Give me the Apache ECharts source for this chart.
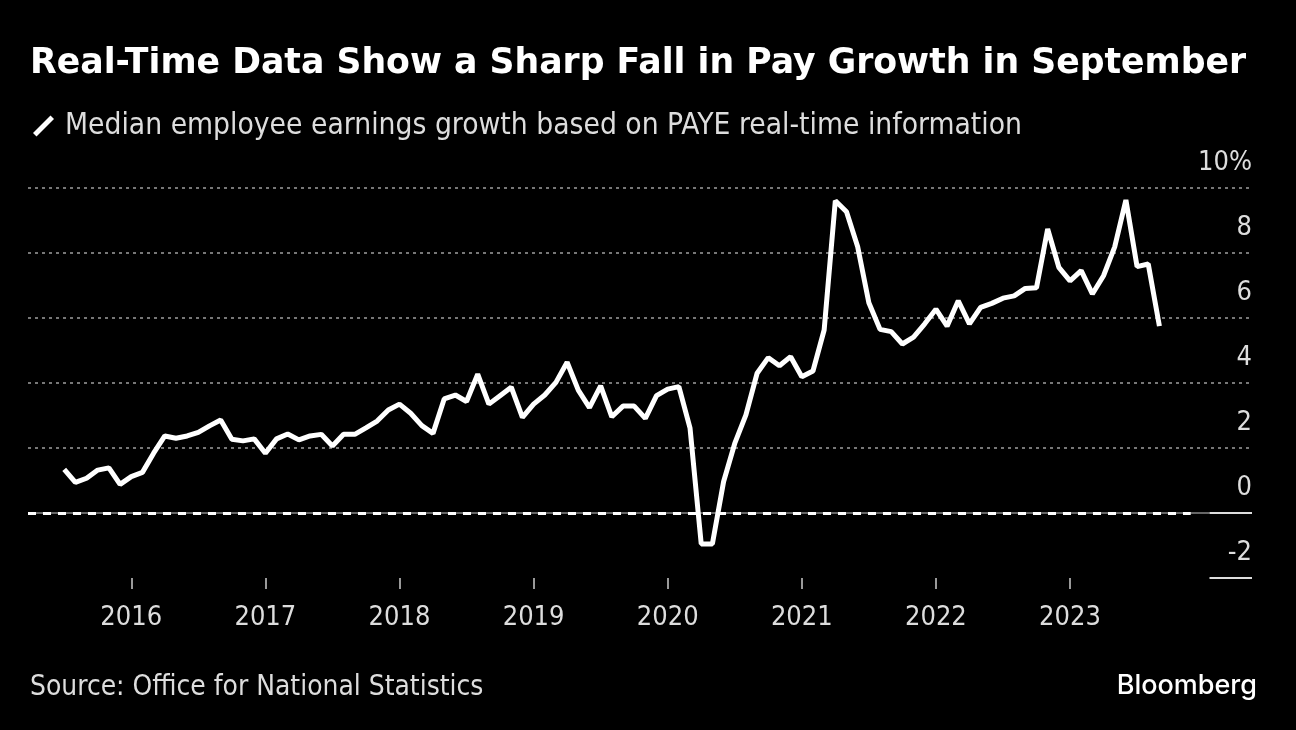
<!DOCTYPE html>
<html lang="en">
<head>
    <meta charset="UTF-8">
    <title>Real-Time Data Show a Sharp Fall in Pay Growth in September</title>
    <script src="https://cdn.jsdelivr.net/npm/echarts@6.0.0/dist/echarts.min.js"></script>
    <style>
        html, body { margin: 0; padding: 0; background: #000; }
        #chart { width: 1296px; height: 730px; }
    </style>
</head>
<body>
<div id="chart"></div>
<script>
    // median employee earnings growth, % y/y, monthly (PAYE RTI)
    var startYear = 2015, startMonth = 7;
    var growth2015 = [1.34, 0.94, 1.07, 1.32, 1.39, 0.88];
    var growth2016 = [1.12, 1.25, 1.84, 2.37, 2.30, 2.37, 2.48, 2.68, 2.86, 2.27, 2.22, 2.28];
    var growth2017 = [1.84, 2.28, 2.43, 2.25, 2.37, 2.42, 2.06, 2.42, 2.42, 2.62, 2.83, 3.17];
    var growth2018 = [3.35, 3.07, 2.69, 2.45, 3.51, 3.63, 3.43, 4.27, 3.35, 3.61, 3.87, 2.94];
    var growth2019 = [3.35, 3.63, 4.02, 4.64, 3.78, 3.24, 3.91, 2.96, 3.29, 3.29, 2.91, 3.61];
    var growth2020 = [3.81, 3.89, 2.61, -0.95, -0.95, 0.96, 2.14, 3.02, 4.30, 4.78, 4.53, 4.81];
    var growth2021 = [4.19, 4.37, 5.63, 9.61, 9.27, 8.19, 6.47, 5.65, 5.58, 5.20, 5.41, 5.82];
    var growth2022 = [6.27, 5.75, 6.53, 5.82, 6.33, 6.45, 6.61, 6.68, 6.91, 6.93, 8.74, 7.56];
    var growth2023 = [7.14, 7.46, 6.74, 7.30, 8.19, 9.63, 7.58, 7.66, 5.75];

    var yearTicks = [2016, 2017, 2018, 2019, 2020, 2021, 2022, 2023];
    var yMin = -2, yMax = 10, yStep = 2;
    var xMin = 2015.23, xMax = 2024.357, zeroEnd = 2023.9, rightRule = 2024.04;

    var labelFont = '"DejaVu Sans Condensed", "DejaVu Sans", sans-serif';

    var values = [].concat(growth2015, growth2016, growth2017, growth2018, growth2019,
        growth2020, growth2021, growth2022, growth2023);
    var data = values.map(function (v, i) {
        var m = startMonth - 1 + i;
        return [startYear + Math.floor(m / 12) + (m % 12) / 12, v];
    });

    var option = {
        backgroundColor: '#000',
        animation: false,
        title: [{
            text: 'Real-Time Data Show a Sharp Fall in Pay Growth in September',
            left: 25, top: 41,
            textStyle: {color: '#fff', fontSize: 34.7, fontWeight: 'bold', fontFamily: '"DejaVu Sans", sans-serif'}
        }, {
            text: 'Source: Office for National Statistics',
            left: 25, top: 669,
            textStyle: {color: '#ddd', fontSize: 27.9, fontWeight: 'normal', fontFamily: labelFont}
        }, {
            text: 'Bloomberg',
            right: 34, top: 667,
            textStyle: {color: '#fff', fontSize: 27, fontWeight: 500, fontFamily: 'Inter, Roboto, sans-serif'}
        }],
        legend: {
            left: 28, top: 106,
            itemWidth: 21, itemHeight: 21, itemGap: 10,
            icon: 'path://M0.4,16.4 L16.4,0.4 L19.6,3.6 L3.6,19.6 Z',
            textStyle: {color: '#ddd', fontSize: 29.7, fontFamily: labelFont, padding: [0, 0, 0, 6]},
            data: ['Median employee earnings growth based on PAYE real-time information']
        },
        grid: {left: 28, right: 44, top: 188, bottom: 152, outerBoundsMode: 'none'},
        xAxis: {
            type: 'value', min: xMin, max: xMax,
            axisLine: {show: false, onZero: false},
            splitLine: {show: false},
            axisTick: {show: true, customValues: yearTicks, length: 11, lineStyle: {color: '#ccc', width: 1.5}},
            axisLabel: {
                customValues: yearTicks, margin: 26,
                color: '#ddd', fontSize: 27, fontFamily: labelFont,
                formatter: function (v) { return String(v); }
            }
        },
        yAxis: {
            type: 'value', position: 'right', min: yMin, max: yMax, interval: yStep,
            axisLine: {show: false},
            axisTick: {show: false},
            splitLine: {
                show: true,
                lineStyle: {
                    color: ['rgba(0,0,0,0)', 'rgba(0,0,0,0)', '#777', '#777', '#777', '#777', '#777'],
                    type: [3, 4], width: 2
                }
            },
            axisLabel: {
                inside: true, margin: 0, align: 'right', verticalAlign: 'bottom',
                padding: [0, 0, 12, 0],
                color: '#ddd', fontSize: 27, fontFamily: labelFont,
                formatter: function (v) { return v === yMax ? v + '%' : String(v); }
            }
        },
        series: [{
            name: 'Median employee earnings growth based on PAYE real-time information',
            type: 'line',
            data: data,
            showSymbol: false,
            itemStyle: {color: '#fff'},
            lineStyle: {color: '#fff', width: 5},
            z: 5
        }, {
            // zero line and right-hand rules
            type: 'line', data: [], silent: true,
            markLine: {
                symbol: 'none', silent: true, label: {show: false},
                data: [
                    [{coord: [xMin, 0], lineStyle: {color: '#666', width: 2, type: 'solid'}},
                        {coord: [rightRule, 0]}],
                    [{coord: [xMin, 0], lineStyle: {color: '#fff', width: 3, type: [8, 7]}},
                        {coord: [zeroEnd, 0]}],
                    [{coord: [rightRule, 0], lineStyle: {color: '#ddd', width: 2, type: 'solid'}},
                        {coord: [xMax, 0]}],
                    [{coord: [rightRule, yMin], lineStyle: {color: '#ddd', width: 2, type: 'solid'}},
                        {coord: [xMax, yMin]}]
                ]
            }
        }]
    };

    var myChart = echarts.init(document.getElementById('chart'));
    myChart.setOption(option);
</script>
</body>
</html>
